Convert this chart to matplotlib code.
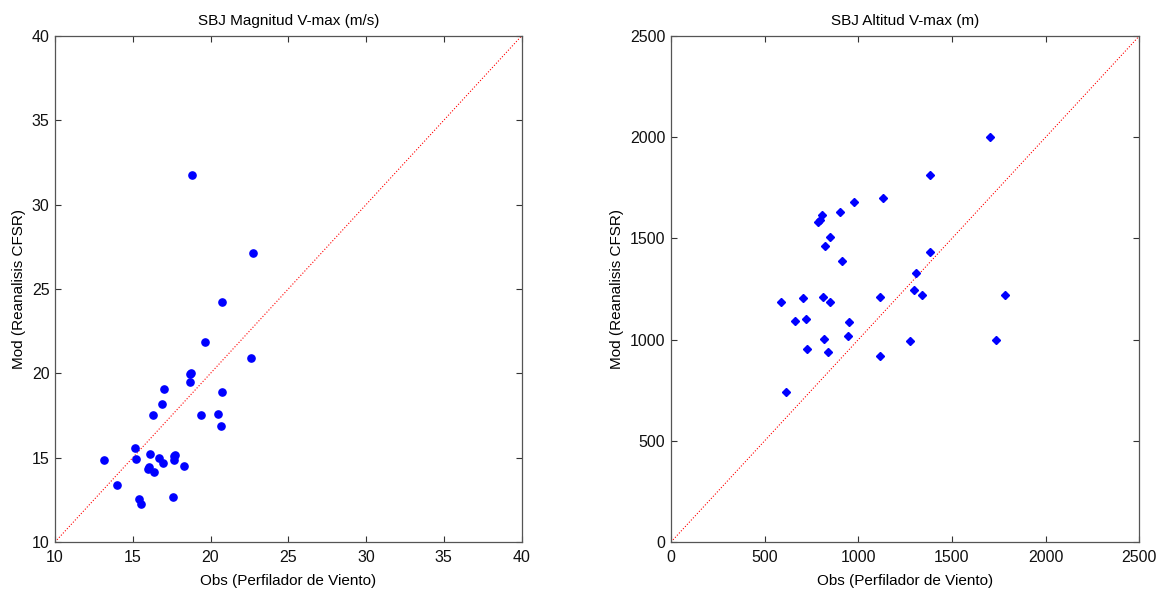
import matplotlib
matplotlib.use("Agg")
import matplotlib.pyplot as plt

# Left panel: SBJ wind speed maximum (m/s)
mag_obs = [13.12, 13.98, 15.42, 15.50, 15.12, 15.23, 16.11, 16.02, 15.95, 16.34,
           16.69, 16.92, 16.32, 16.88, 17.03, 17.63, 17.72, 17.63, 17.61, 18.32,
           18.65, 18.73, 18.66, 19.42, 20.47, 20.65, 20.75, 18.82, 22.75, 20.71,
           19.66, 22.60]
mag_mod = [14.88, 13.36, 12.53, 12.25, 15.59, 14.92, 15.22, 14.45, 14.31, 14.15,
           14.96, 14.67, 17.51, 18.18, 19.05, 15.12, 15.14, 14.86, 12.69, 14.51,
           19.94, 20.04, 19.47, 17.51, 17.61, 16.86, 18.89, 31.77, 27.13, 24.21,
           21.84, 20.89]

# Right panel: SBJ altitude of maximum (m)
alt_obs = [1383, 1132, 977, 901, 806, 794, 786, 849, 822, 915,
           1384, 1308, 1296, 1342, 1117, 586, 705, 812, 849, 660,
           719, 950, 818, 947, 728, 837, 1276, 1117, 612, 1705,
           1785, 1733]
alt_mod = [1815, 1698, 1678, 1629, 1618, 1593, 1580, 1509, 1462, 1386,
           1434, 1327, 1243, 1220, 1212, 1184, 1204, 1209, 1186, 1091,
           1101, 1087, 1003, 1018, 954, 941, 994, 920, 741, 2000,
           1220, 997]

left_ticks = [10, 15, 20, 25, 30, 35, 40]
right_ticks = [0, 500, 1000, 1500, 2000, 2500]

plt.rcParams['font.family'] = ['Liberation Sans', 'DejaVu Sans']

fig = plt.figure(figsize=(11.67, 5.92), dpi=100)
ax1 = fig.add_axes([55/1167, 50/592, 466.5/1167, 506/592])
ax2 = fig.add_axes([671/1167, 50/592, 468.3/1167, 506/592])

def style(ax, ticks):
    ax.set_xlim(ticks[0], ticks[-1])
    ax.set_ylim(ticks[0], ticks[-1])
    ax.set_xticks(ticks)
    ax.set_yticks(ticks)
    ax.tick_params(direction='in', top=True, right=True, length=4, width=0.8,
                   color='#333333', labelsize=11.5, labelcolor='#111111')
    ax.tick_params(axis='x', pad=6)
    ax.tick_params(axis='y', pad=4)
    for s in ax.spines.values():
        s.set_color('#555555')
        s.set_linewidth(0.9)
    ax.plot([ticks[0], ticks[-1]], [ticks[0], ticks[-1]], ':', color='red',
            linewidth=0.8, zorder=1)

style(ax1, left_ticks)
ax1.plot(mag_obs, mag_mod, 'o', color='blue', markersize=5.2, linestyle='none', zorder=3)
ax1.set_title('SBJ Magnitud V-max (m/s)', fontsize=11, pad=8)
ax1.set_xlabel('Obs (Perfilador de Viento)', fontsize=11, labelpad=6)
ax1.set_ylabel('Mod (Reanalisis CFSR)', fontsize=11, labelpad=4)

style(ax2, right_ticks)
ax2.plot(alt_obs, alt_mod, 'D', color='blue', markersize=4.0, linestyle='none', zorder=3)
ax2.set_title('SBJ Altitud V-max (m)', fontsize=11, pad=8)
ax2.set_xlabel('Obs (Perfilador de Viento)', fontsize=11, labelpad=6)
ax2.set_ylabel('Mod (Reanalisis CFSR)', fontsize=11, labelpad=4)

fig.savefig('out.png', dpi=100, facecolor='white')
